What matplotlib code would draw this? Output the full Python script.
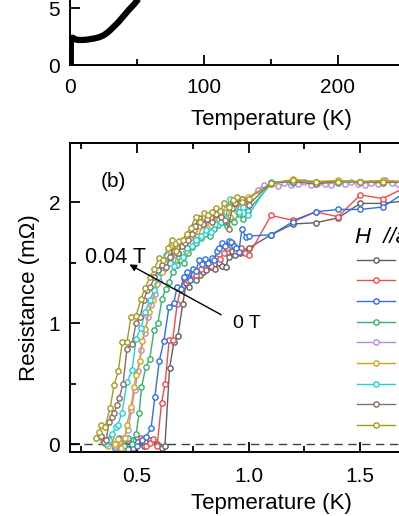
import matplotlib
matplotlib.use('Agg')
import matplotlib.pyplot as plt

plt.rcParams['font.family'] = ['Liberation Sans', 'DejaVu Sans']

# ---- panel (a): R(T) over the full temperature range (only the bottom is visible)
temp_a = [0.3, 0.6, 0.65, 1, 2, 4, 6, 8, 10, 12, 15, 18, 20, 22, 25, 28, 30, 33,
          36, 40, 44, 48, 52, 56, 60]
res_a = [0, 0, 2.0, 2.3, 2.4, 2.25, 2.2, 2.2, 2.2, 2.22, 2.27, 2.33, 2.38, 2.45,
         2.6, 2.85, 3.05, 3.4, 3.75, 4.3, 4.85, 5.35, 5.95, 6.55, 7.2]

# ---- panel (b): low temperature transition for H // a
fields = ['0 T', '0.005 T', '0.01 T', '0.015 T', '0.02 T', '0.025 T', '0.03 T',
          '0.035 T', '0.04 T']
colors = ['#5f5f5f', '#f24a4a', '#2f6fe6', '#35b26a', '#b88ae6', '#d6a21e',
          '#1fd3d8', '#8e6b64', '#a39b1c']

t_0 = [0.50, 0.53, 0.56, 0.59, 0.61, 0.625, 0.646, 0.665, 0.683, 0.705, 0.72, 0.735,
       0.75, 0.765, 0.78, 0.795, 0.81, 0.83, 0.85, 0.867, 0.882, 0.897, 0.91, 0.925,
       0.94, 0.96, 0.98, 1.0, 1.1, 1.2, 1.3, 1.4, 1.5, 1.6, 1.7, 1.8, 1.9, 2.0]
r_0 = [0.02, -0.02, 0.03, 0.0, -0.03, -0.02, 0.63, 0.84, 0.89, 1.16, 1.33, 1.30,
       1.38, 1.36, 1.40, 1.42, 1.44, 1.46, 1.45, 1.50, 1.47, 1.46, 1.55, 1.60,
       1.56, 1.58, 1.60, 1.62, 1.73, 1.82, 1.83, 1.87, 1.99, 1.99, 2.01, 2.10, 2.15, 2.17]

t_005 = [0.40, 0.42, 0.44, 0.46, 0.48, 0.50, 0.52, 0.54, 0.557, 0.572, 0.59, 0.61,
         0.626, 0.644, 0.66, 0.68, 0.695, 0.71, 0.728, 0.746, 0.765, 0.786, 0.80,
         0.813, 0.833, 0.853, 0.87, 0.889, 0.905, 0.925, 0.945, 0.965, 0.982, 1.0,
         1.1, 1.2, 1.3, 1.4, 1.5, 1.6, 1.7, 1.8, 1.9, 2.0]
r_005 = [0.0, 0.04, -0.02, 0.03, -0.03, 0.02, 0.05, -0.02, 0.01, 0.04, -0.02, 0.34,
         0.50, 0.86, 0.86, 1.16, 1.28, 1.37, 1.35, 1.41, 1.40, 1.45, 1.48, 1.50,
         1.47, 1.54, 1.53, 1.58, 1.62, 1.66, 1.60, 1.62, 1.58, 1.56, 1.89, 1.85,
         1.92, 1.88, 2.06, 2.03, 2.12, 2.16, 2.17, 2.17]

t_01 = [0.38, 0.40, 0.42, 0.44, 0.46, 0.48, 0.50, 0.522, 0.54, 0.563, 0.58, 0.60,
        0.62, 0.643, 0.665, 0.68, 0.695, 0.71, 0.723, 0.738, 0.752, 0.765, 0.777,
        0.79, 0.805, 0.82, 0.835, 0.847, 0.857, 0.868, 0.88, 0.895, 0.91, 0.92,
        0.935, 0.945, 0.956, 0.97, 0.987, 1.0, 1.1, 1.2, 1.3, 1.4, 1.5, 1.6, 1.7,
        1.8, 1.9, 2.0]
r_01 = [0.02, -0.03, 0.05, 0.0, -0.04, 0.03, -0.02, 0.03, 0.06, 0.13, 0.39, 0.69,
        0.85, 1.13, 1.17, 1.30, 1.28, 1.38, 1.42, 1.36, 1.45, 1.43, 1.52, 1.49,
        1.53, 1.50, 1.54, 1.52, 1.60, 1.62, 1.66, 1.64, 1.68, 1.67, 1.64, 1.62,
        1.59, 1.78, 1.71, 1.72, 1.73, 1.84, 1.92, 1.94, 1.94, 1.96, 2.08, 2.15,
        2.17, 2.17]

t_015 = [0.36, 0.38, 0.40, 0.42, 0.44, 0.46, 0.478, 0.496, 0.51, 0.52, 0.54, 0.557,
         0.576, 0.594, 0.612, 0.628, 0.643, 0.66, 0.678, 0.695, 0.712, 0.73, 0.748,
         0.765, 0.785, 0.805, 0.825, 0.845, 0.865, 0.885, 0.905, 0.92, 0.935, 0.955,
         0.975, 0.997, 1.1, 1.2, 1.3, 1.4, 1.5, 1.6, 1.7, 1.8, 1.9, 2.0]
r_015 = [0.0, 0.04, -0.03, 0.02, -0.02, 0.05, 0.0, 0.08, 0.26, 0.47, 0.64, 0.70,
         0.94, 1.00, 1.20, 1.28, 1.34, 1.42, 1.48, 1.52, 1.50, 1.58, 1.63, 1.66,
         1.70, 1.74, 1.72, 1.78, 1.81, 1.84, 1.80, 1.86, 1.84, 1.90, 1.86, 1.93,
         2.15, 2.18, 2.16, 2.17, 2.17, 2.17, 2.17, 2.17, 2.17, 2.17]

t_02 = [0.36, 0.38, 0.40, 0.42, 0.44, 0.46, 0.475, 0.49, 0.505, 0.52, 0.535, 0.55,
        0.565, 0.58, 0.60, 0.62, 0.64, 0.66, 0.68, 0.70, 0.72, 0.74, 0.76, 0.78,
        0.80, 0.82, 0.84, 0.86, 0.88, 0.90, 0.92, 0.94, 0.96, 0.98, 1.0, 1.04, 1.07,
        1.10, 1.13, 1.16, 1.19, 1.22, 1.25, 1.28, 1.31, 1.34, 1.37, 1.40, 1.43,
        1.46, 1.49, 1.52, 1.55, 1.58, 1.61, 1.64, 1.67, 1.70, 1.75, 1.80, 1.85,
        1.90, 1.95, 2.0]
r_02 = [0.01, 0.03, -0.02, 0.02, 0.05, 0.12, 0.28, 0.45, 0.60, 0.78, 0.92, 1.05,
        1.15, 1.24, 1.35, 1.45, 1.52, 1.58, 1.62, 1.66, 1.70, 1.74, 1.78, 1.80,
        1.84, 1.86, 1.88, 1.90, 1.92, 1.94, 1.96, 1.97, 1.99, 2.0, 2.02, 2.10,
        2.14, 2.15, 2.13, 2.16, 2.14, 2.15, 2.17, 2.14, 2.16, 2.15, 2.14, 2.16,
        2.15, 2.17, 2.15, 2.14, 2.16, 2.15, 2.18, 2.16, 2.15, 2.17, 2.16, 2.17,
        2.16, 2.17, 2.17, 2.17]

t_025 = [0.35, 0.37, 0.385, 0.40, 0.415, 0.43, 0.445, 0.455, 0.473, 0.487, 0.496,
         0.513, 0.522, 0.538, 0.553, 0.571, 0.59, 0.61, 0.63, 0.65, 0.668, 0.685,
         0.703, 0.72, 0.738, 0.755, 0.775, 0.795, 0.813, 0.83, 0.85, 0.87, 0.897,
         0.915, 0.935, 0.95, 0.965, 0.998, 1.1, 1.2, 1.3, 1.4, 1.5, 1.6, 1.7, 1.8,
         1.9, 2.0]
r_025 = [0.02, -0.02, 0.06, 0.0, 0.04, -0.03, 0.05, 0.16, 0.31, 0.47, 0.57, 0.69,
         0.85, 0.95, 1.09, 1.19, 1.32, 1.42, 1.50, 1.63, 1.52, 1.58, 1.66, 1.60,
         1.70, 1.77, 1.72, 1.82, 1.79, 1.87, 1.84, 1.90, 1.92, 1.88, 1.96, 1.93,
         2.02, 2.04, 2.15, 2.19, 2.17, 2.18, 2.17, 2.18, 2.17, 2.17, 2.17, 2.17]

t_03 = [0.345, 0.36, 0.375, 0.39, 0.405, 0.415, 0.433, 0.455, 0.478, 0.496, 0.518,
        0.536, 0.558, 0.576, 0.595, 0.612, 0.63, 0.648, 0.665, 0.685, 0.705, 0.725,
        0.745, 0.763, 0.785, 0.81, 0.83, 0.85, 0.875, 0.897, 0.915, 0.935, 0.955,
        0.975, 0.997, 1.1, 1.2, 1.3, 1.4, 1.5, 1.6, 1.7, 1.8, 1.9, 2.0]
r_03 = [0.05, 0.0, 0.03, 0.08, 0.14, 0.16, 0.26, 0.51, 0.61, 0.87, 0.96, 1.09,
        1.19, 1.27, 1.38, 1.46, 1.56, 1.50, 1.47, 1.58, 1.55, 1.62, 1.64, 1.69,
        1.72, 1.77, 1.75, 1.82, 1.84, 1.87, 2.03, 1.95, 1.92, 1.96, 1.89, 2.17,
        2.16, 2.17, 2.16, 2.17, 2.17, 2.17, 2.17, 2.16, 2.17]

t_035 = [0.34, 0.352, 0.362, 0.375, 0.388, 0.398, 0.41, 0.42, 0.438, 0.455, 0.478,
         0.496, 0.514, 0.531, 0.545, 0.56, 0.578, 0.595, 0.612, 0.63, 0.648, 0.665,
         0.682, 0.70, 0.715, 0.73, 0.745, 0.76, 0.776, 0.795, 0.815, 0.835, 0.855,
         0.875, 0.893, 0.91, 0.925, 0.94, 0.97, 1.0, 1.1, 1.2, 1.3, 1.4, 1.5, 1.6,
         1.7, 1.8, 1.9, 2.0]
r_035 = [0.07, 0.02, 0.03, 0.18, 0.22, 0.26, 0.32, 0.38, 0.50, 0.79, 0.83, 1.00,
         1.05, 1.19, 1.27, 1.30, 1.38, 1.44, 1.48, 1.46, 1.55, 1.60, 1.58, 1.64,
         1.66, 1.69, 1.74, 1.80, 1.87, 1.82, 1.86, 1.84, 1.90, 1.88, 1.85, 1.78,
         1.95, 1.99, 2.03, 1.98, 2.16, 2.17, 2.15, 2.17, 2.17, 2.16, 2.17, 2.17,
         2.17, 2.17]

t_04 = [0.315, 0.33, 0.34, 0.357, 0.38, 0.398, 0.416, 0.434, 0.455, 0.473, 0.496,
        0.518, 0.536, 0.558, 0.578, 0.598, 0.618, 0.637, 0.656, 0.675, 0.69, 0.705,
        0.724, 0.741, 0.763, 0.782, 0.80, 0.82, 0.836, 0.852, 0.872, 0.89, 0.91,
        0.928, 0.947, 0.97, 1.0, 1.1, 1.2, 1.3, 1.4, 1.5, 1.6, 1.7, 1.8, 1.9, 2.0]
r_04 = [0.05, 0.10, 0.16, 0.14, 0.30, 0.49, 0.60, 0.84, 0.84, 1.05, 1.06, 1.20,
        1.29, 1.38, 1.45, 1.54, 1.52, 1.62, 1.69, 1.60, 1.68, 1.69, 1.74, 1.79,
        1.88, 1.84, 1.91, 1.89, 1.92, 1.95, 1.93, 1.99, 1.96, 2.02, 2.04, 2.00,
        2.03, 2.16, 2.18, 2.17, 2.17, 2.17, 2.17, 2.17, 2.17, 2.17, 2.17]

temps_b = [t_0, t_005, t_01, t_015, t_02, t_025, t_03, t_035, t_04]
res_b = [r_0, r_005, r_01, r_015, r_02, r_025, r_03, r_035, r_04]


def style_axes(ax, xpad, top=True):
    for side in ax.spines.values():
        side.set_linewidth(1.4)
    ax.tick_params(which='both', direction='in', top=top, right=True, labelsize=15,
                   width=1.3)
    ax.tick_params(which='major', length=7.5)
    ax.tick_params(which='minor', length=4)
    ax.tick_params(axis='y', which='major', pad=7)
    ax.tick_params(axis='x', which='major', pad=xpad)


fig = plt.figure(figsize=(3.99, 5.16), dpi=100)

# top panel, mostly outside the visible crop
ax1 = fig.add_axes([0.1754, 0.874, 1.0075, 0.552])
ax1.plot(temp_a, res_a, color='k', lw=4.5, solid_capstyle='butt')
ax1.set_xlim(0, 300)
ax1.set_ylim(0, 25)
ax1.set_xticks([0, 100, 200])
ax1.set_xticks([50, 150, 250], minor=True)
ax1.set_yticks([0, 5])
style_axes(ax1, xpad=9, top=False)
ax1.set_xlabel('Temperature (K)', fontsize=16, labelpad=9)

# bottom panel (b)
ax2 = fig.add_axes([0.1754, 0.124, 1.0075, 0.599])
ax2.axhline(0, color='#404040', lw=1.0, ls=(0, (6, 4)), zorder=1)
for t, r, c, lab in zip(temps_b, res_b, colors, fields):
    ax2.plot(t, r, color=c, lw=1.0, marker='o', ms=3.8, mfc='white', mec=c,
             mew=1.0, label=lab)
ax2.set_xlim(0.2, 2.0)
ax2.set_ylim(-0.066, 2.49)
ax2.set_xticks([0.5, 1.0, 1.5])
ax2.set_xticks([0.25, 0.75, 1.25, 1.75], minor=True)
ax2.set_yticks([0, 1, 2])
ax2.set_yticks([0.5, 1.5], minor=True)
style_axes(ax2, xpad=10.5)
ax2.set_xlabel('Tepmerature (K)', fontsize=16, labelpad=5.5)
ax2.set_ylabel('Resistance (m\u03a9)', fontsize=16, labelpad=6)

ax2.text(0.339, 2.17, '(b)', fontsize=15, va='center')
ax2.text(0.265, 1.545, '0.04 T', fontsize=15.5, va='center')
ax2.text(0.93, 1.0, '0 T', fontsize=14, va='center')
ax2.annotate('', xy=(0.455, 1.496), xytext=(0.888, 1.058),
             arrowprops=dict(arrowstyle='-|>', color='k', lw=1.0, mutation_scale=10))
ax2.text(1.478, 1.71, 'H  //a', fontsize=16, style='italic', va='center')

ax2.legend(loc='upper left', bbox_to_anchor=(0.714, 0.642), frameon=False,
           fontsize=12, handlelength=2.3, labelspacing=0.34, borderpad=0,
           borderaxespad=0, handletextpad=0.6)

fig.savefig('out.png', dpi=100)
